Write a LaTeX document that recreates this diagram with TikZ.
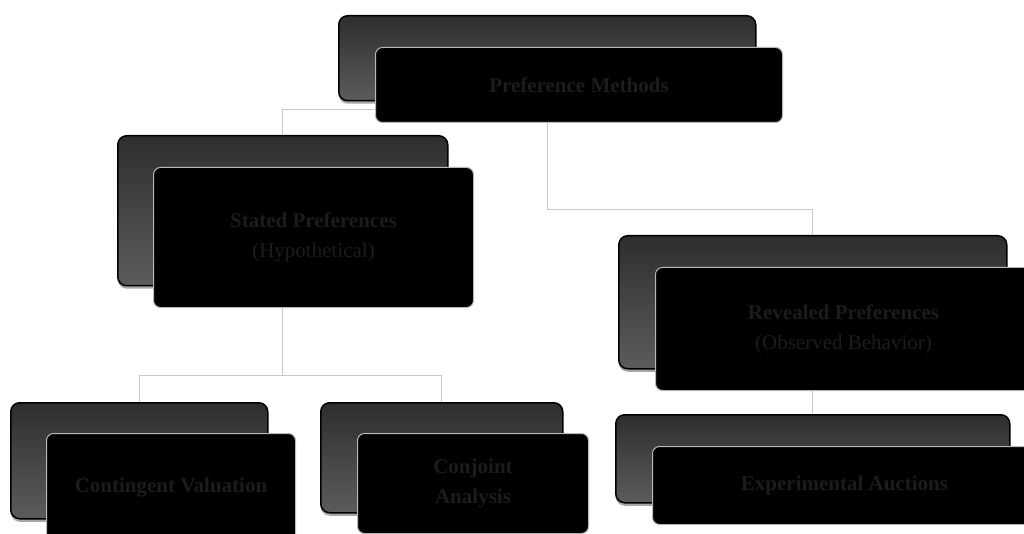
\documentclass[tikz,border=0pt]{standalone}
\usepackage{fontspec}
\setmainfont{Liberation Serif}
\usetikzlibrary{shadows}
\definecolor{linkgray}{RGB}{200,200,200}
\definecolor{labelgray}{RGB}{28,28,28}
\tikzset{
  backbox/.style={draw=black, line width=1.5pt, rounded corners=9pt,
    top color=black!82, bottom color=black!64, anchor=north west, inner sep=0pt,
    drop shadow={shadow xshift=0pt, shadow yshift=-3pt, opacity=0.7}},
  frontbox/.style={draw=black!28, line width=1pt, rounded corners=7pt,
    fill=black, text=labelgray,
    anchor=north west, align=center, inner sep=0pt,
    font=\fontsize{21}{30}\selectfont\bfseries},
  link/.style={draw=linkgray, line width=1pt}
}
\begin{document}
\begin{tikzpicture}[x=1pt, y=-1pt]
    \useasboundingbox (0,0) rectangle (1024,534);
    % back boxes
    \node[backbox, minimum width=417pt, minimum height=85pt] (prefb) at (338,15) {};
    \node[backbox, minimum width=330pt, minimum height=150pt] (statb) at (117,135) {};
    \node[backbox, minimum width=388pt, minimum height=133pt] (revb) at (618,235) {};
    \node[backbox, minimum width=257pt, minimum height=116pt] (contb) at (10,402) {};
    \node[backbox, minimum width=242pt, minimum height=110pt] (conjb) at (320,402) {};
    \node[backbox, minimum width=394pt, minimum height=88pt] (expb) at (615,414) {};
    % connectors
    \draw[link] (prefb.south) -- (prefb.south |- 0,110) -| (statb.north);
    \draw[link] (prefb.south) -- (prefb.south |- 0,210) -| (revb.north);
    \draw[link] (statb.south) -- (statb.south |- 0,375) -| (contb.north);
    \draw[link] (statb.south) -- (statb.south |- 0,375) -| (conjb.north);
    \draw[link] (revb.south) -- (expb.north);
    % front boxes
    \node[frontbox, minimum width=407pt, minimum height=75pt] (pref) at (375,47) {Preference Methods};
    \node[frontbox, minimum width=320pt, minimum height=140pt] (stat) at (153,167) {Stated Preferences\\ \mdseries(Hypothetical)};
    \node[frontbox, minimum width=376pt, minimum height=123pt] (rev) at (655,267) {Revealed Preferences\\ \mdseries(Observed Behavior)};
    \node[frontbox, minimum width=249pt, minimum height=108pt] (cont) at (46,433) {Contingent Valuation};
    \node[frontbox, minimum width=231pt, minimum height=100pt] (conj) at (357,433) {Conjoint\\ Analysis};
    \node[frontbox, minimum width=384pt, minimum height=78pt] (exp) at (652,446) {Experimental Auctions};
\end{tikzpicture}
\end{document}
